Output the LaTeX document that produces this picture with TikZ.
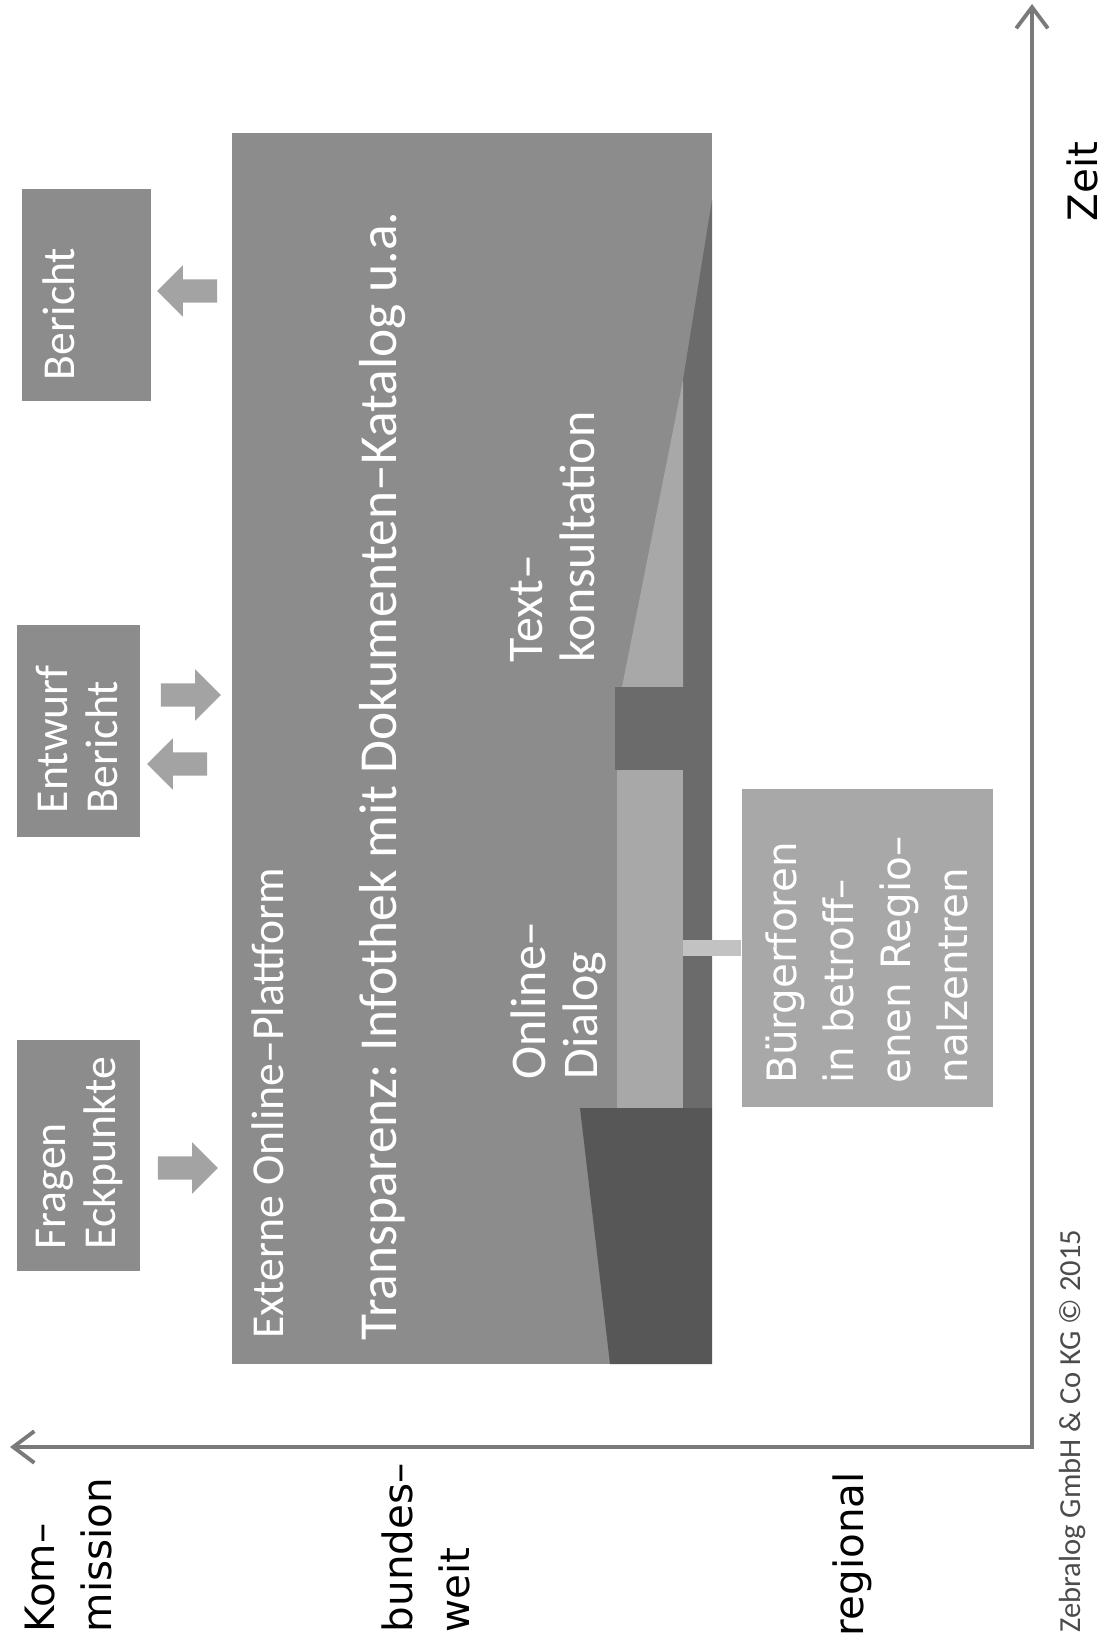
\documentclass[tikz,border=0pt]{standalone}
\usepackage{fontspec}
\setmainfont{DejaVu Sans}
\newfontfamily\carlito{Carlito}
\usepackage{tikz}
\usetikzlibrary{arrows.meta}
\usetikzlibrary{calc}
\usetikzlibrary{shapes.arrows}

\definecolor{boxgrau}{gray}{0.55}
\definecolor{hellgrau}{gray}{0.66}
\definecolor{dunkelgrau}{gray}{0.42}
\definecolor{tiefgrau}{gray}{0.34}
\definecolor{achsgrau}{gray}{0.48}
\definecolor{pfeilgrau}{gray}{0.64}

\tikzset{
	kasten/.style={rotate=90, fill=boxgrau, inner sep=0pt},
	kastentext/.style={rotate=90, anchor=north west, inner sep=0pt, align=left, text=white, font=\carlito\fontsize{13pt}{14.2pt}\selectfont},
	innentext/.style={rotate=90, anchor=north west, inner sep=0pt, align=left, text=white, font=\carlito\fontsize{14.2pt}{14.8pt}\selectfont},
	ebene/.style={rotate=90, anchor=north west, inner sep=0pt, align=left, font=\fontsize{11.5pt}{16.2pt}\selectfont},
	blockpfeil/.style={single arrow, fill=pfeilgrau, inner xsep=0pt, inner ysep=0.11cm, minimum height=0.6cm, single arrow head extend=0.14cm},
	achse/.style={draw=achsgrau, line width=1.1pt}
}

\begin{document}
\frenchspacing
\begin{tikzpicture}[x=0.01cm,y=-0.01cm]
	\path[use as bounding box, fill=white] (0,0) rectangle (1110,1643);

	\coordinate (ursprung) at (1032,1447);
	\coordinate (zeitende) at (1032,4);
	\coordinate (ebenenende) at (10,1447);
	\draw[achse, {Straight Barb[length=6pt,width=9pt]}-{Straight Barb[length=6pt,width=9pt]}] (ebenenende) -- (ursprung) -- (zeitende);

	\node[rotate=90, anchor=base west, inner sep=0pt, font=\fontsize{11.5pt}{13pt}\selectfont] (zeit) at (1097,222) {Zeit};
	\node[rotate=90, anchor=base west, inner sep=0pt, text=black!70, font=\carlito\fontsize{8.7pt}{10pt}\selectfont] (copyright) at (1080,1633) {Zebralog GmbH \& Co KG © 2015};

	\node[ebene] (kommission) at (24,1633) {Kom–\\mission};
	\node[ebene] (bundesweit) at (381,1633) {bundes–\\weit};
	\node[ebene] (regional) at (832,1637) {regional};

	\node[kasten, minimum width=2.12cm, minimum height=1.29cm] (bericht) at (86.5,295) {};
	\node[kastentext] (berichttext) at ($(bericht.north west)+(21,-21)$) {Bericht};
	\node[kasten, minimum width=2.12cm, minimum height=1.23cm] (entwurf) at (78.5,731) {};
	\node[kastentext] (entwurftext) at ($(entwurf.north west)+(19,-24)$) {Entwurf\\Bericht};
	\node[kasten, minimum width=2.31cm, minimum height=1.23cm] (fragen) at (78.5,1155.5) {};
	\node[kastentext] (fragentext) at ($(fragen.north west)+(19,-22)$) {Fragen\\Eckpunkte};

	\node[blockpfeil, shape border rotate=180] (berichtpfeil) at (193,291) {};
	\node[blockpfeil] (entwurfhin) at (185,695) {};
	\node[blockpfeil, shape border rotate=180] (entwurfher) at (183,764) {};
	\node[blockpfeil] (fragenpfeil) at (182,1168) {};

	\node[kasten, minimum width=12.31cm, minimum height=4.80cm] (plattform) at (472,748.5) {};
	\fill[dunkelgrau] (712,200) -- (712,1108) -- (683,1108) -- (683,380) -- cycle;
	\fill[hellgrau] (683,380) -- (683,687) -- (622,687) -- cycle;
	\fill[dunkelgrau] (615,687) rectangle (712,770);
	\fill[hellgrau] (617,770) rectangle (683,1108);
	\fill[tiefgrau] (580,1108) -- (712,1108) -- (712,1364) -- (610,1364) -- cycle;

	\node[rotate=90, anchor=base west, inner sep=0pt, text=white, font=\carlito\fontsize{13pt}{15pt}\selectfont] (externe) at (283,1339) {Externe Online–Plattform};
	\node[rotate=90, anchor=base west, inner sep=0pt, text=white, font=\carlito\fontsize{15.2pt}{17pt}\selectfont] (transparenz) at (396,1341) {Transparenz: Infothek mit Dokumenten–Katalog u.a.};
	\node[innentext] (dialog) at (510,1080) {Online–\\Dialog};
	\node[innentext] (konsultation) at (510,663) {Text–\\konsultation};

	\node[kasten, fill=hellgrau, minimum width=3.17cm, minimum height=2.51cm] (buerger) at (867.5,948) {};
	\node[ebene, text=white] (buergertext) at ($(buerger.north west)+(24,-23)$) {Bürgerforen\\in betroff–\\enen Regio–\\nalzentren};
	\coordinate (dialogrand) at (683,948);
	\draw[line width=0.16cm, draw=hellgrau!70!white] (dialogrand) -- (buerger.north);
\end{tikzpicture}
\end{document}
